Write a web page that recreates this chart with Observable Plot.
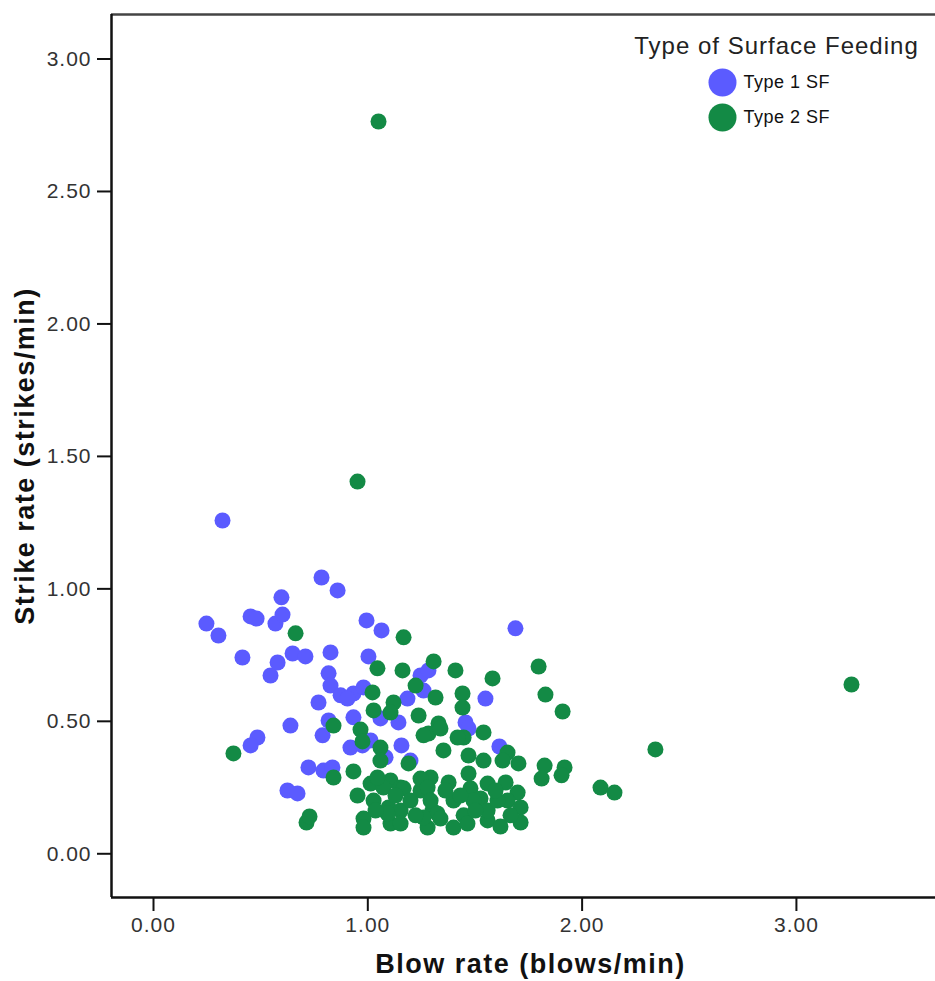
<!DOCTYPE html>
<html>
<head>
<meta charset="utf-8">
<script src="https://cdn.jsdelivr.net/npm/d3@7"></script>
<script src="https://cdn.jsdelivr.net/npm/@observablehq/plot@0.6"></script>
<style>
  html, body { margin: 0; padding: 0; background: #fff; }
  #chart svg { display: block; font-family: "Liberation Sans", Arial, sans-serif; }
</style>
</head>
<body>
<div id="chart"></div>
<script>
// Type 1 SF: blow rate (blows/min)
const type1Blow = [0.322,0.247,0.303,0.415,0.453,0.481,0.569,0.602,0.597,0.546,0.579,0.649,0.709,0.784,0.859,0.826,0.817,0.826,0.873,0.933,0.980,0.994,1.064,1.003,0.770,0.639,0.789,0.817,0.933,0.485,0.453,0.723,0.793,0.835,0.625,0.672,0.919,1.013,0.905,1.059,1.143,1.185,1.246,1.283,1.549,1.689,1.456,1.470,1.614,1.157,1.199,1.083,1.260,0.975];
// Type 1 SF: strike rate (strikes/min)
const type1Strike = [1.258,0.869,0.824,0.741,0.896,0.888,0.869,0.903,0.968,0.673,0.722,0.756,0.745,1.043,0.994,0.760,0.681,0.635,0.598,0.605,0.628,0.881,0.843,0.745,0.571,0.484,0.447,0.503,0.515,0.439,0.409,0.326,0.314,0.326,0.239,0.228,0.401,0.428,0.586,0.511,0.496,0.586,0.673,0.692,0.586,0.851,0.496,0.473,0.405,0.409,0.352,0.364,0.616,0.409];
// Type 2 SF: blow rate
const type2Blow = [1.050,0.952,3.257,2.342,2.086,2.151,1.797,1.829,1.909,1.918,1.904,1.825,1.811,1.652,1.629,1.703,0.663,0.373,0.714,0.728,0.840,0.840,1.167,1.045,1.307,1.409,1.582,1.022,1.027,1.162,1.223,1.316,1.442,1.442,1.120,1.106,1.237,1.330,1.540,0.966,1.059,0.975,1.283,1.190,0.933,1.059,1.013,1.106,1.153,0.952,1.027,1.097,1.153,1.246,1.293,1.246,0.980,1.106,1.279,1.302,1.447,1.353,1.470,1.540,1.470,1.279,1.377,1.479,1.559,1.643,1.699,1.293,1.400,1.526,1.652,1.713,1.325,1.447,1.559,1.713,1.400,1.559,1.419,1.260,1.339,1.073,1.167,1.493,1.605,1.260,0.980,1.153,1.465,1.092,1.045,1.199,1.223,1.362,1.432,1.596,1.666,1.036,1.129,1.339,1.502,1.619];
// Type 2 SF: strike rate
const type2Strike = [2.764,1.405,0.639,0.394,0.250,0.231,0.707,0.601,0.537,0.326,0.296,0.333,0.284,0.382,0.352,0.341,0.832,0.379,0.118,0.141,0.484,0.288,0.817,0.700,0.726,0.692,0.662,0.609,0.541,0.692,0.635,0.590,0.605,0.552,0.571,0.533,0.522,0.492,0.458,0.469,0.401,0.424,0.454,0.341,0.311,0.352,0.265,0.277,0.250,0.220,0.201,0.175,0.163,0.239,0.288,0.284,0.133,0.114,0.099,0.163,0.439,0.390,0.371,0.352,0.303,0.250,0.269,0.247,0.265,0.269,0.231,0.201,0.201,0.209,0.201,0.175,0.152,0.145,0.126,0.118,0.099,0.163,0.439,0.447,0.473,0.250,0.247,0.201,0.201,0.137,0.099,0.114,0.114,0.152,0.288,0.201,0.145,0.239,0.220,0.239,0.145,0.163,0.220,0.133,0.163,0.103];

const groups = ["Type 1 SF", "Type 2 SF"];
const groupColors = ["#5b5bff", "#138a45"];
const legendTitle = "Type of Surface Feeding";
const xTicks = [0, 1, 2, 3];
const yTicks = [0, 0.5, 1, 1.5, 2, 2.5, 3];
const xDomain = [-0.196, 3.649];
const yDomain = [-0.165, 3.168];
const xLabel = "Blow rate (blows/min)";
const yLabel = "Strike rate (strikes/min)";

const data = [
  ...type1Blow.map((b, i) => ({blow: b, strike: type1Strike[i], type: groups[0]})),
  ...type2Blow.map((b, i) => ({blow: b, strike: type2Strike[i], type: groups[1]}))
];
const fmt = d3.format(".2f");

const chart = Plot.plot({
  width: 935,
  height: 981,
  marginLeft: 111,
  marginRight: 0,
  marginTop: 14,
  marginBottom: 84,
  style: {fontFamily: "'Liberation Sans', Arial, sans-serif", background: "#fff"},
  x: {domain: xDomain},
  y: {domain: yDomain},
  color: {domain: groups, range: groupColors},
  marks: [
    Plot.dot(data, {x: "blow", y: "strike", fill: "type", r: 8, stroke: "none"}),
    Plot.ruleY([yDomain[1]], {stroke: "#444", strokeWidth: 2.5}),
    Plot.ruleX([xDomain[0]], {stroke: "#111", strokeWidth: 2.5}),
    Plot.ruleY([yDomain[0]], {stroke: "#111", strokeWidth: 2.5}),
    Plot.axisX({ticks: xTicks, tickFormat: fmt, tickSize: 14, tickPadding: 6, fontSize: 21, stroke: "#111", strokeWidth: 2, fill: "#333", label: null}),
    Plot.axisY({ticks: yTicks, tickFormat: fmt, tickSize: 14, tickPadding: 6, fontSize: 21, stroke: "#111", strokeWidth: 2, fill: "#333", label: null}),
    Plot.text([xLabel], {frameAnchor: "bottom", dx: 7, dy: 67, lineAnchor: "middle", textAnchor: "middle", fontSize: 27, fontWeight: "bold", fill: "#111", text: d => d}),
    Plot.text([yLabel], {frameAnchor: "left", dx: -86, rotate: -90, lineAnchor: "middle", textAnchor: "middle", fontSize: 27, fontWeight: "bold", fill: "#111", text: d => d}),
    // legend
    Plot.text([legendTitle], {frameAnchor: "top-right", dx: -159, dy: 32, lineAnchor: "middle", textAnchor: "middle", fontSize: 24, fill: "#222", text: d => d}),
    Plot.dot([groups[0]], {frameAnchor: "top-right", dx: -213, dy: 68, r: 14, fill: d => d}),
    Plot.dot([groups[1]], {frameAnchor: "top-right", dx: -213, dy: 103, r: 14, fill: d => d}),
    Plot.text([groups[0]], {frameAnchor: "top-right", dx: -192, dy: 68, lineAnchor: "middle", textAnchor: "start", fontSize: 18, fill: "#111", text: d => d}),
    Plot.text([groups[1]], {frameAnchor: "top-right", dx: -192, dy: 103, lineAnchor: "middle", textAnchor: "start", fontSize: 18, fill: "#111", text: d => d})
  ]
});
// letter spacing to match the reference's wide text rendering
const spacing = new Map([[legendTitle, "1px"], [xLabel, "1.5px"], [yLabel, "1.5px"], [groups[0], "0.5px"], [groups[1], "0.5px"]]);
d3.select(chart).selectAll("text").each(function() {
  const t = this.textContent;
  if (spacing.has(t)) this.style.letterSpacing = spacing.get(t);
  else if (/^\d\.\d\d$/.test(t)) this.style.letterSpacing = "1px";
});
document.getElementById("chart").appendChild(chart);
</script>
</body>
</html>
